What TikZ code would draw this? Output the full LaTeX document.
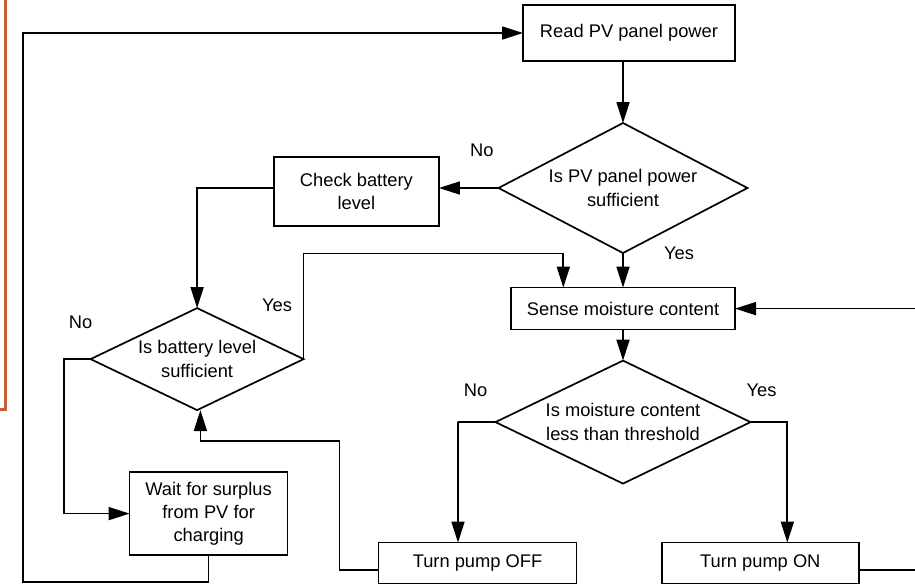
\documentclass[tikz,border=0pt]{standalone}
\usepackage{fontspec}
\setmainfont{Liberation Sans}
\usepackage{xcolor}
\usetikzlibrary{shapes.geometric, arrows.meta, positioning}
\definecolor{edgebrown}{RGB}{195,95,55}

\begin{document}
\begin{tikzpicture}[
    process/.style={rectangle, draw=black, fill=white, line width=1.7pt, align=center, inner sep=0pt, outer sep=0pt, font=\fontsize{18.3}{23.3}\selectfont},
    decision/.style={diamond, draw=black, fill=white, line width=1.7pt, aspect=2, align=center, inner sep=0pt, outer sep=0pt, font=\fontsize{18.3}{23.3}\selectfont},
    lbl/.style={inner sep=0pt, font=\fontsize{18.3}{23.3}\selectfont},
    arrow/.style={-{Triangle[length=21pt, width=13pt]}, line width=1.7pt, draw=black}
]

% Page frame
\useasboundingbox (0pt,0pt) rectangle (915pt,-584pt);
\clip (0pt,0pt) rectangle (915pt,-584pt);
\fill[white] (0pt,0pt) rectangle (915pt,-584pt);
\draw[edgebrown, line width=3.3pt, line join=miter] (5.7pt,5pt) -- (5.7pt,-409.8pt) -- (-5pt,-409.8pt);

% Main column: PV power and moisture
\node[process, minimum width=212pt, minimum height=56pt] (read) at (629pt,-33pt) {Read PV panel power};
\node[decision, minimum width=249pt, minimum height=130pt, below=62pt of read, xshift=-6pt] (dec1) {Is PV panel power\\sufficient};
\node[process, minimum width=224pt, minimum height=42pt, below=34.6pt of dec1] (sense) {Sense moisture content};
\node[decision, minimum width=255pt, minimum height=123pt, below=31pt of sense] (dec3) {Is moisture content\\less than threshold};
\node[process, minimum width=198pt, minimum height=41pt, below=59pt of dec3, xshift=-145.5pt] (off) {Turn pump OFF};
\node[process, minimum width=197pt, minimum height=41pt, right=85.3pt of off] (on) {Turn pump ON};

% Left column: battery branch
\node[process, minimum width=165pt, minimum height=69pt, left=59.6pt of dec1, yshift=-3.3pt] (check) {Check battery\\level};
\node[decision, minimum width=213pt, minimum height=102pt, below=82.3pt of check, xshift=-159.3pt] (dec2) {Is battery level\\sufficient};
\node[process, minimum width=158pt, minimum height=83pt, below=62pt of dec2, xshift=11.5pt] (wait) {Wait for surplus\\from PV for\\charging};

% Branch labels
\node[lbl] (no1) at ([xshift=-16.6pt, yshift=37.3pt]dec1.west) {No};
\node[lbl] (yes1) at ([xshift=56pt, yshift=-0.5pt]dec1.south) {Yes};
\node[lbl] (yes2) at ([xshift=-26.6pt, yshift=53.5pt]dec2.east) {Yes};
\node[lbl] (no2) at ([xshift=-10pt, yshift=36.8pt]dec2.west) {No};
\node[lbl] (no3) at ([xshift=-20pt, yshift=31.7pt]dec3.west) {No};
\node[lbl] (yes3) at ([xshift=11pt, yshift=31.7pt]dec3.east) {Yes};

% Main flow
\draw[arrow] (read.south -| dec1.north) -- (dec1.north);
\draw[arrow] (dec1.south) -- (sense.north);
\draw[arrow] (sense.south) -- (dec3.north);
\draw[arrow] (dec3.west) -- ++(-38pt,0) -| ([xshift=-19.5pt]off.north);
\draw[arrow] (dec3.east) -- ++(36.7pt,0) -| ([xshift=27pt]on.north);
\draw[arrow] ([yshift=-7pt]on.east) -- ++(70pt,0) |- (sense.east);

% Battery flow
\draw[arrow] (dec1.west) -- (dec1.west -| check.east);
\draw[arrow] (dec1.west -| check.west) -| (dec2.north);
\draw[arrow] (dec2.east) -- ++(0,105.5pt) -| ([xshift=-59.7pt]sense.north);
\draw[arrow] (dec2.west) -- ++(-26.7pt,0) |- (wait.west);
\draw[arrow] ([yshift=-7pt]off.west) -- ++(-39pt,0) -- ++(0,129pt) -| ([xshift=3.3pt]dec2.south);

% Return loop
\coordinate (loopcorner) at (23.3pt,-582.3pt);
\draw[arrow] (wait.south) |- (loopcorner) |- (read.west);

\end{tikzpicture}
\end{document}
